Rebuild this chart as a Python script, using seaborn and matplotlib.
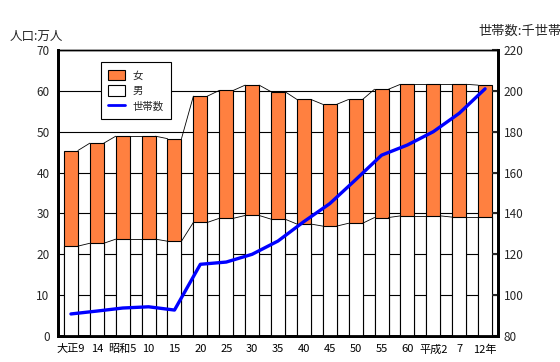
import numpy as np
import pandas as pd
import matplotlib
matplotlib.use('Agg')
import matplotlib.pyplot as plt
import seaborn as sns
from matplotlib.patches import Patch
from matplotlib.lines import Line2D

# 年次ラベル
years = ['大正9', '14', '昭和5', '10', '15', '20', '25', '30', '35', '40',
         '45', '50', '55', '60', '平成2', '7', '12年']
# 人口（万人）
male = [22.0, 22.7, 23.7, 23.7, 23.2, 27.8, 28.8, 29.5, 28.6, 27.4,
        26.9, 27.6, 29.0, 29.4, 29.4, 29.1, 29.1]
female = [23.4, 24.5, 25.2, 25.2, 25.1, 30.9, 31.3, 31.9, 31.2, 30.5,
          29.8, 30.3, 31.4, 32.2, 32.2, 32.5, 32.3]
# 世帯数（千世帯）
households = [90.8, 92.2, 93.7, 94.3, 92.7, 115.1, 116.2, 120.0, 126.5, 136.0,
              144.8, 156.5, 168.5, 173.5, 180.0, 189.0, 201.0]

df = pd.DataFrame({'year': years, 'male': male, 'female': female,
                   'households': households})
df['total'] = df['male'] + df['female']
df['pos'] = np.arange(len(df))

sns.set_style('white')
plt.rcParams['font.family'] = ['Noto Sans CJK JP', 'DejaVu Sans']

orange = '#FF8040'
bw = 0.54

fig = plt.figure(figsize=(5.6, 3.62), dpi=100)
ax = fig.add_axes([0.1036, 0.0718, 0.7857, 0.7901])

ax.yaxis.grid(True, color='black', linewidth=0.8)
ax.set_axisbelow(True)

sns.barplot(data=df, x='year', y='total', color=orange, edgecolor='black',
            linewidth=0.8, width=bw, saturation=1, ax=ax, zorder=2)
sns.barplot(data=df, x='year', y='male', color='white', edgecolor='black',
            linewidth=0.8, width=bw, saturation=1, ax=ax, zorder=3)

# 区分線（棒の上端をつなぐ線）
for col in ['male', 'total']:
    v = df[col].values
    for i in range(len(v) - 1):
        ax.plot([i + bw / 2, i + 1 - bw / 2], [v[i], v[i + 1]],
                color='black', linewidth=0.6, zorder=4)

ax.set_xlim(-0.5, len(df) - 0.5)
ax.set_ylim(0, 70)
ax.set_yticks(range(0, 71, 10))
ax.set_xlabel('')
ax.set_ylabel('')
ax.tick_params(axis='x', direction='in', length=4, width=1.5, pad=6,
               labelsize=8, colors='black')
ax.tick_params(axis='y', direction='in', length=0, pad=6, labelsize=8.5)

ax2 = ax.twinx()
sns.lineplot(data=df, x='pos', y='households', color='blue', linewidth=2.4,
             ax=ax2, zorder=5)
ax2.set_ylim(80, 220)
ax2.set_yticks(range(80, 221, 20))
ax2.set_ylabel('')
ax2.tick_params(axis='y', direction='in', length=4, width=1.5, pad=4,
                labelsize=8.5)

for a in (ax, ax2):
    for s in ['left', 'bottom', 'right']:
        a.spines[s].set_linewidth(2)
        a.spines[s].set_color('black')
    a.spines['top'].set_linewidth(1)
    a.spines['top'].set_color('black')

handles = [Patch(facecolor=orange, edgecolor='black', linewidth=0.8),
           Patch(facecolor='white', edgecolor='black', linewidth=0.8),
           Line2D([], [], color='blue', linewidth=2)]
leg = ax2.legend(handles, ['女', '男', '世帯数'], loc='upper left',
                 bbox_to_anchor=(0.085, 0.975), fontsize=7.5, frameon=True,
                 fancybox=False, edgecolor='black', framealpha=1,
                 handlelength=1.6, handleheight=1.2, borderpad=0.7,
                 labelspacing=0.45)
leg.get_frame().set_linewidth(0.8)

fig.text(10 / 560, 1 - 36 / 362, '人口:万人', fontsize=9, va='center', ha='left')
fig.text(478 / 560, 1 - 31 / 362, '世帯数:千世帯', fontsize=9.5, va='center', ha='left')

fig.savefig('out.png', dpi=100)
